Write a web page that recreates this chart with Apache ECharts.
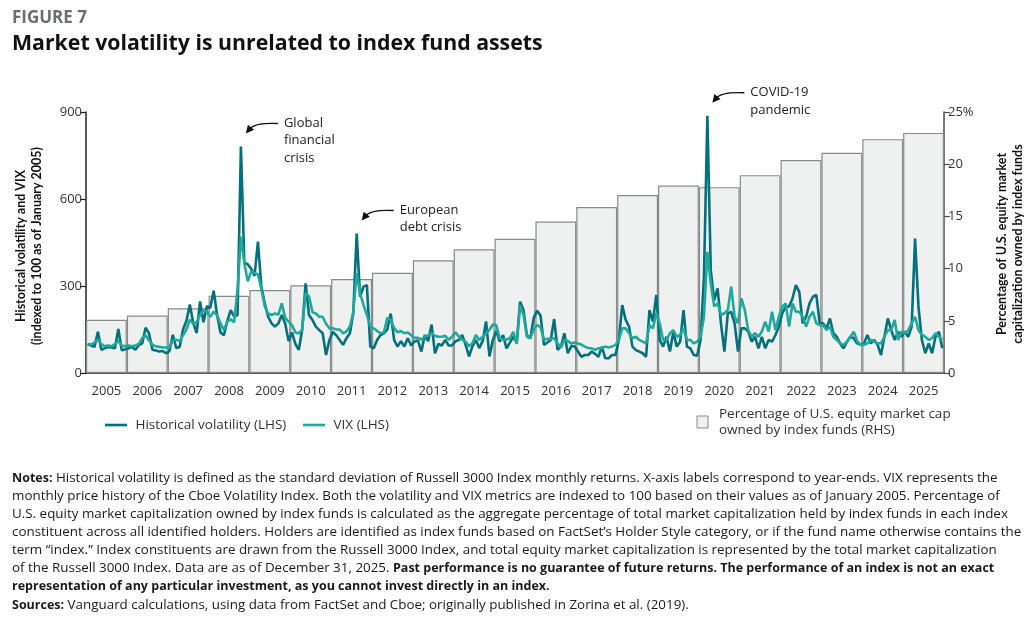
<!DOCTYPE html>
<html>
<head>
<meta charset="utf-8">
<script src="https://cdn.jsdelivr.net/npm/echarts@6/dist/echarts.min.js"></script>
<style>
html, body { margin: 0; padding: 0; background: #fff; }
#chart { width: 1032px; height: 617px; }
</style>
</head>
<body>
<div id="chart"></div>
<script>
// year-end categories and share of US equity market cap held by index funds (%)
const years = ['2005', '2006', '2007', '2008', '2009', '2010', '2011', '2012', '2013', '2014', '2015',
  '2016', '2017', '2018', '2019', '2020', '2021', '2022', '2023', '2024', '2025'];
const indexFundShare = [5.1, 5.5, 6.2, 7.4, 7.95, 8.4, 9.0, 9.6, 10.8, 11.85, 12.85,
  14.5, 15.9, 17.05, 17.95, 17.8, 18.95, 20.4, 21.1, 22.4, 23.0];

// monthly values, indexed to 100 at Jan 2005 (one row per year)
const histVol = [
  100, 95, 90, 142, 80, 85, 90, 88, 85, 152, 78, 82,
  85, 90, 80, 96, 102, 156, 137, 80, 78, 74, 76, 68,
  75, 132, 86, 90, 150, 180, 236, 172, 138, 247, 175, 230,
  225, 284, 200, 140, 130, 180, 217, 195, 200, 781, 380, 375,
  360, 335, 453, 298, 240, 194, 171, 160, 171, 200, 171, 110,
  140, 100, 80, 150, 309, 200, 183, 160, 148, 137, 62, 114,
  142, 130, 114, 97, 120, 137, 206, 481, 263, 298, 303, 91,
  85, 114, 131, 137, 150, 205, 114, 91, 110, 91, 120, 95,
  109, 112, 74, 131, 110, 167, 68, 100, 95, 114, 95, 95,
  109, 114, 131, 97, 57, 92, 114, 86, 110, 178, 57, 114,
  145, 108, 131, 85, 105, 125, 105, 246, 217, 130, 120, 190,
  215, 198, 97, 105, 114, 186, 80, 91, 137, 68, 92, 92,
  74, 56, 62, 62, 74, 66, 56, 91, 51, 51, 62, 62,
  114, 234, 183, 160, 91, 79, 74, 68, 56, 217, 177, 269,
  114, 91, 125, 74, 142, 91, 108, 217, 91, 85, 62, 60,
  114, 330, 887, 355, 250, 292, 170, 74, 206, 210, 171, 74,
  154, 154, 143, 108, 125, 85, 125, 85, 114, 108, 131, 160,
  206, 229, 229, 257, 303, 280, 171, 194, 240, 263, 269, 171,
  171, 154, 188, 137, 125, 102, 85, 108, 125, 120, 102, 97,
  102, 131, 102, 114, 97, 62, 125, 188, 148, 114, 142, 125,
  142, 125, 160, 464, 229, 114, 68, 102, 68, 125, 142, 85
];
const vix = [
  100, 98, 105, 115, 100, 92, 95, 92, 100, 110, 95, 92,
  95, 92, 95, 100, 120, 130, 112, 98, 92, 90, 88, 88,
  88, 112, 115, 110, 130, 150, 184, 170, 175, 200, 215, 212,
  194, 211, 200, 171, 148, 177, 185, 175, 286, 470, 380, 316,
  350, 345, 340, 290, 230, 205, 200, 205, 201, 240, 190, 177,
  165, 140, 137, 150, 275, 265, 210, 205, 194, 194, 170, 154,
  154, 150, 150, 137, 143, 160, 210, 344, 275, 235, 200, 160,
  154, 145, 137, 140, 190, 183, 155, 140, 145, 137, 140, 130,
  121, 121, 115, 125, 130, 138, 128, 125, 125, 128, 115, 125,
  140, 126, 114, 108, 92, 103, 131, 114, 125, 137, 149, 167,
  165, 120, 115, 115, 120, 142, 100, 234, 200, 125, 120, 150,
  165, 158, 114, 118, 118, 120, 102, 88, 114, 110, 102, 105,
  102, 98, 91, 86, 85, 80, 85, 86, 91, 88, 91, 97,
  114, 154, 154, 137, 120, 125, 114, 108, 102, 165, 154, 206,
  171, 114, 114, 137, 148, 125, 131, 154, 114, 114, 102, 108,
  125, 194, 418, 309, 230, 240, 200, 206, 217, 298, 194, 171,
  257, 217, 148, 125, 137, 125, 143, 177, 143, 211, 148, 194,
  229, 240, 160, 240, 211, 211, 194, 160, 194, 211, 171, 165,
  165, 148, 160, 125, 114, 102, 97, 108, 125, 142, 110, 97,
  97, 102, 114, 108, 102, 102, 125, 148, 148, 183, 114, 142,
  137, 148, 171, 194, 148, 131, 125, 114, 120, 137, 125, 114
];

// axis scales
const leftMax = 900, leftStep = 300;
const rightMax = 25, rightStep = 5;

// annotated events: [month label, text]
const events = [
  ['2008-10', 'Global\nfinancial\ncrisis'],
  ['2011-08', 'European\ndebt crisis'],
  ['2020-03', 'COVID-19\npandemic']
];

const months = years.flatMap(y => ['01','02','03','04','05','06','07','08','09','10','11','12'].map(m => y + '-' + m));

const FONT = '"Open Sans", "Noto Sans", sans-serif';
const LATO = 'Lato, "Open Sans", sans-serif';
const DARK = '#00707c';
const LIGHT = '#20a89b';
const BAR_FILL = '#eff0f0';
const BAR_EDGE = '#8a8a8a';
const HIST_NAME = 'Historical volatility (LHS)';
const VIX_NAME = 'VIX (LHS)';
const BAR_NAME = 'Percentage of U.S. equity market cap\nowned by index funds (RHS)';

const notes = [
  '{b|Notes:} Historical volatility is defined as the standard deviation of Russell 3000 Index monthly returns. X-axis labels correspond to year-ends. VIX represents the',
  'monthly price history of the Cboe Volatility Index. Both the volatility and VIX metrics are indexed to 100 based on their values as of January 2005. Percentage of',
  'U.S. equity market capitalization owned by index funds is calculated as the aggregate percentage of total market capitalization held by index funds in each index',
  'constituent across all identified holders. Holders are identified as index funds based on FactSet\u2019s Holder Style category, or if the fund name otherwise contains the',
  'term \u201cindex.\u201d Index constituents are drawn from the Russell 3000 Index, and total equity market capitalization is represented by the total market capitalization',
  'of the Russell 3000 Index. Data are as of December 31, 2025. {b|Past performance is no guarantee of future returns. The performance of an index is not an exact}',
  '{b|representation of any particular investment, as you cannot invest directly in an index.}',
  '{b|Sources:} Vanguard calculations, using data from FactSet and Cboe; originally published in Zorina et al. (2019).'
];
const noteY = [478, 496, 514, 532, 550, 568, 586, 605];
const NOTE_SIZE = 13.4;
const NOTE_BOLD_SIZE = 12.5;

const chart = echarts.init(document.getElementById('chart'));

const legendText = { fontFamily: FONT, fontSize: 13.5, color: '#333' };

const staticGraphics = [
  { type: 'text', x: 12, y: 18.5, style: { text: 'FIGURE 7', x: 0, y: 0, verticalAlign: 'middle',
      fontFamily: FONT, fontWeight: 'bold', fontSize: 17, fill: '#6d6e71' } },
  { type: 'text', x: 12, y: 44, style: { text: 'Market volatility is unrelated to index fund assets', x: 0, y: 0, verticalAlign: 'middle',
      fontFamily: FONT, fontWeight: 'bold', fontSize: 21.3, fill: '#111' } },
  { type: 'text', x: 29, y: 246, rotation: Math.PI / 2,
    style: { text: 'Historical volatility and VIX\n(indexed to 100 as of January 2005)', x: 0, y: 0, align: 'center', verticalAlign: 'middle',
      fontFamily: LATO, fontWeight: 'bold', fontSize: 12.5, lineHeight: 16, fill: '#111' } },
  { type: 'text', x: 1010, y: 244, rotation: Math.PI / 2,
    style: { text: 'Percentage of U.S. equity market\ncapitalization owned by index funds', x: 0, y: 0, align: 'center', verticalAlign: 'middle',
      fontFamily: LATO, fontWeight: 'bold', fontSize: 12.5, lineHeight: 16, fill: '#111' } },
  // legend entry for the bars (box sits beside the first text line)
  { type: 'rect', shape: { x: 697, y: 416, width: 11, height: 12 },
    style: { fill: BAR_FILL, stroke: BAR_EDGE, lineWidth: 1 } },
  { type: 'text', x: 719, y: 422, style: { text: BAR_NAME, x: 0, y: 0, verticalAlign: 'middle',
      fontFamily: FONT, fontSize: 13.5, lineHeight: 16, fill: '#333' } }
].concat(notes.map((t, i) => ({
  type: 'text', x: 12, y: noteY[i],
  style: {
    text: t, x: 0, y: 0, verticalAlign: 'middle', fontFamily: FONT, fontSize: NOTE_SIZE, fill: '#1a1a1a',
    rich: { b: { fontWeight: 'bold', fontSize: NOTE_BOLD_SIZE, fontFamily: FONT, fill: '#1a1a1a' } }
  }
})));

chart.setOption({
  animation: false,
  backgroundColor: '#fff',
  grid: { left: 86, right: 88, top: 112, bottom: 244, containLabel: false },
  legend: [
    { data: [{ name: HIST_NAME, icon: 'rect' }], left: 100, top: 413, itemWidth: 22, itemHeight: 2.6,
      formatter: n => ' ' + n, textStyle: legendText },
    { data: [{ name: VIX_NAME, icon: 'rect' }], left: 298, top: 413, itemWidth: 22, itemHeight: 2.6,
      formatter: n => ' ' + n, textStyle: legendText }
  ],
  xAxis: [
    { type: 'category', data: years, boundaryGap: true,
      axisLine: { lineStyle: { color: '#231f20', width: 1.5 } },
      axisTick: { show: false },
      axisLabel: { color: '#333', fontSize: 13, fontFamily: FONT, margin: 12 } },
    { type: 'category', data: months, boundaryGap: true, show: false }
  ],
  yAxis: [
    { type: 'value', min: 0, max: leftMax, interval: leftStep,
      axisLine: { show: true, lineStyle: { color: '#231f20', width: 1.5 } },
      axisTick: { show: true, length: 6, lineStyle: { color: '#231f20', width: 1.2 } },
      splitLine: { show: false },
      axisLabel: { color: '#333', fontSize: 13, fontFamily: FONT, margin: 4 } },
    { type: 'value', min: 0, max: rightMax, interval: rightStep, position: 'right',
      axisLine: { show: true, lineStyle: { color: '#4d4d4d', width: 1.5 } },
      axisTick: { show: true, length: 6, lineStyle: { color: '#4d4d4d', width: 1.2 } },
      splitLine: { show: false },
      axisLabel: { color: '#333', fontSize: 13, fontFamily: FONT, margin: 4,
        formatter: v => (v === rightMax ? v + '%' : String(v)) } }
  ],
  series: [
    { name: BAR_NAME, type: 'bar', xAxisIndex: 0, yAxisIndex: 1, data: indexFundShare,
      barCategoryGap: '0%', z: 1,
      itemStyle: { color: BAR_FILL, borderColor: BAR_EDGE, borderWidth: 1.2 } },
    { name: HIST_NAME, type: 'line', xAxisIndex: 1, yAxisIndex: 0, data: histVol,
      symbol: 'none', z: 3, color: DARK, lineStyle: { color: DARK, width: 2.6 } },
    { name: VIX_NAME, type: 'line', xAxisIndex: 1, yAxisIndex: 0, data: vix,
      symbol: 'none', z: 4, color: LIGHT, lineStyle: { color: LIGHT, width: 2.6 } }
  ],
  graphic: staticGraphics
});

// annotation arrows anchored to the peaks
function arrowFor(month, label) {
  const idx = months.indexOf(month);
  const p = chart.convertToPixel({ seriesIndex: 1 }, [idx, histVol[idx]]);
  const tip = [p[0] + 5, p[1] - 13];
  const tail = [tip[0] + 32, tip[1] - 10];
  const cp = [tip[0] + 9, tail[1] - 1];
  let dx = tip[0] - cp[0], dy = tip[1] - cp[1];
  const len = Math.sqrt(dx * dx + dy * dy);
  dx /= len; dy /= len;
  const nx = -dy, ny = dx;
  const head = 8, half = 4;
  const base = [tip[0] - dx * head, tip[1] - dy * head];
  return [
    { type: 'bezierCurve', shape: { x1: tail[0], y1: tail[1], x2: base[0] + dx * 2, y2: base[1] + dy * 2, cpx1: cp[0], cpy1: cp[1] },
      style: { stroke: '#111', lineWidth: 1.4, fill: null }, z: 10 },
    { type: 'polygon', shape: { points: [tip, [base[0] + nx * half, base[1] + ny * half], [base[0] - nx * half, base[1] - ny * half]] },
      style: { fill: '#111' }, z: 10 },
    { type: 'text', x: tail[0] + 6, y: tail[1] - 9,
      style: { text: label, x: 0, y: 0, fontFamily: FONT, fontSize: 13, lineHeight: 17.5, fill: '#222', align: 'left', verticalAlign: 'top' }, z: 10 }
  ];
}

const extra = events.flatMap(e => arrowFor(e[0], e[1]));
chart.setOption({ graphic: staticGraphics.concat(extra) });
</script>
</body>
</html>
